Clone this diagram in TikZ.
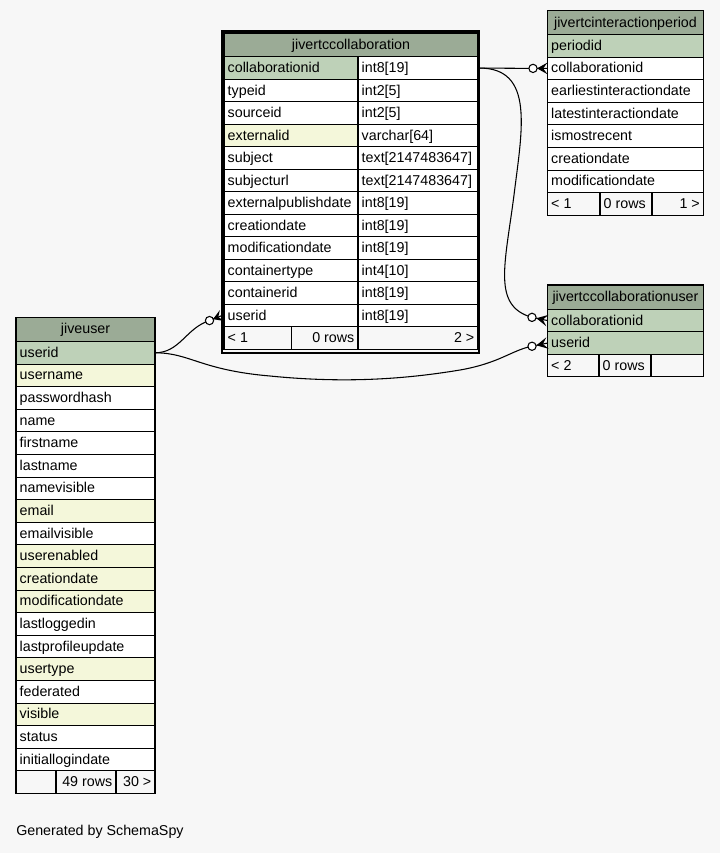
\documentclass[tikz,border=0pt]{standalone}
\usepackage{fontspec}
\setmainfont{Liberation Sans}
\usetikzlibrary{calc}
\definecolor{bgc}{HTML}{F7F7F7}
\definecolor{headc}{HTML}{9BAB96}
\definecolor{pkc}{HTML}{BED1B8}
\definecolor{idxc}{HTML}{F4F7DA}
\tikzset{
  cellbox/.style={draw=black, line width=0.8pt, anchor=north west, inner sep=0pt, outer sep=0pt},
  txt/.style={inner sep=0pt, text height=8pt, text depth=1.2pt, font=\fontsize{10.7}{12}\selectfont},
  conn/.style={draw=black, line width=0.8pt},
  frame/.style={draw=black, line width=2.2pt, inner sep=0pt, outer sep=0pt, anchor=north west}
}
% #1 name, #2 x, #3 y, #4 w, #5 h, #6 fill, #7 text
\newcommand\cellL[7]{%
  \node[cellbox, fill=#6, minimum width=#4*0.75pt, minimum height=#5*0.75pt] (#1) at (#2,#3) {};
  \node[txt, anchor=west] (#1-t) at ([xshift=2.6pt]#1.west) {#7};}
\newcommand\cellR[7]{%
  \node[cellbox, fill=#6, minimum width=#4*0.75pt, minimum height=#5*0.75pt] (#1) at (#2,#3) {};
  \node[txt, anchor=east] (#1-t) at ([xshift=-2.6pt]#1.east) {#7};}
\newcommand\cellC[7]{%
  \node[cellbox, fill=#6, minimum width=#4*0.75pt, minimum height=#5*0.75pt] (#1) at (#2,#3) {};
  \node[txt] (#1-t) at (#1.center) {#7};}
% crow + odot: #1 edge point, #2 circle center
\newcommand\crowodot[2]{%
  \fill ($(#1)!0.72!(#2)$) -- ($(#1)!4.4pt!90:(#2)$) -- ($(#1)!0.3!(#2)$) -- ($(#1)!4.4pt!-90:(#2)$) -- cycle;
  \draw[line width=0.8pt] (#1) -- ($(#1)!0.72!(#2)$);
  \draw[line width=0.8pt, fill=white] (#2) circle[radius=3.1pt];}
\begin{document}
\begin{tikzpicture}[x=0.75pt, y=-0.75pt]
\fill[bgc] (0,0) rectangle (720,853);
\useasboundingbox (0,0) rectangle (720,853);

% ---------------- jivertccollaboration ----------------
\node[frame, minimum width=257*0.75pt, minimum height=322*0.75pt] (cframe) at (222,31) {};
\cellC{c-title}{224}{33}{254}{23.8}{headc}{jivertccollaboration}
\def\cx{224}\def\cw{134}\def\tx{358}\def\tw{120}\def\rh{22.5}
\cellL{c-cid}{\cx}{56.8}{\cw}{\rh}{pkc}{collaborationid}
\cellL{c-cid-ty}{\tx}{56.8}{\tw}{\rh}{white}{int8[19]}
\cellL{c-typ}{\cx}{79.3}{\cw}{\rh}{white}{typeid}
\cellL{c-typ-ty}{\tx}{79.3}{\tw}{\rh}{white}{int2[5]}
\cellL{c-src}{\cx}{101.8}{\cw}{\rh}{white}{sourceid}
\cellL{c-src-ty}{\tx}{101.8}{\tw}{\rh}{white}{int2[5]}
\cellL{c-ext}{\cx}{124.3}{\cw}{\rh}{idxc}{externalid}
\cellL{c-ext-ty}{\tx}{124.3}{\tw}{\rh}{white}{varchar[64]}
\cellL{c-sub}{\cx}{146.8}{\cw}{\rh}{white}{subject}
\cellL{c-sub-ty}{\tx}{146.8}{\tw}{\rh}{white}{text[2147483647]}
\cellL{c-url}{\cx}{169.3}{\cw}{\rh}{white}{subjecturl}
\cellL{c-url-ty}{\tx}{169.3}{\tw}{\rh}{white}{text[2147483647]}
\cellL{c-epd}{\cx}{191.8}{\cw}{\rh}{white}{externalpublishdate}
\cellL{c-epd-ty}{\tx}{191.8}{\tw}{\rh}{white}{int8[19]}
\cellL{c-cd}{\cx}{214.3}{\cw}{\rh}{white}{creationdate}
\cellL{c-cd-ty}{\tx}{214.3}{\tw}{\rh}{white}{int8[19]}
\cellL{c-md}{\cx}{236.8}{\cw}{\rh}{white}{modificationdate}
\cellL{c-md-ty}{\tx}{236.8}{\tw}{\rh}{white}{int8[19]}
\cellL{c-ct}{\cx}{259.3}{\cw}{\rh}{white}{containertype}
\cellL{c-ct-ty}{\tx}{259.3}{\tw}{\rh}{white}{int4[10]}
\cellL{c-ci}{\cx}{281.8}{\cw}{\rh}{white}{containerid}
\cellL{c-ci-ty}{\tx}{281.8}{\tw}{\rh}{white}{int8[19]}
\cellL{c-uid}{\cx}{304.3}{\cw}{\rh}{white}{userid}
\cellL{c-uid-ty}{\tx}{304.3}{\tw}{\rh}{white}{int8[19]}
\cellL{c-f1}{224}{326.8}{67.5}{\rh}{bgc}{< 1}
\cellR{c-f2}{291.5}{326.8}{66.5}{\rh}{bgc}{0 rows}
\cellR{c-f3}{358}{326.8}{120}{\rh}{bgc}{2 >}

% ---------------- jivertcinteractionperiod ----------------
\def\ix{547.5}\def\iw{156}\def\rh{22.6}
\cellC{i-title}{\ix}{10.5}{\iw}{24}{headc}{jivertcinteractionperiod}
\cellL{i-pid}{\ix}{34.5}{\iw}{\rh}{pkc}{periodid}
\cellL{i-cid}{\ix}{57.1}{\iw}{\rh}{white}{collaborationid}
\cellL{i-eid}{\ix}{79.7}{\iw}{\rh}{white}{earliestinteractiondate}
\cellL{i-lid}{\ix}{102.3}{\iw}{\rh}{white}{latestinteractiondate}
\cellL{i-imr}{\ix}{124.9}{\iw}{\rh}{white}{ismostrecent}
\cellL{i-cd}{\ix}{147.5}{\iw}{\rh}{white}{creationdate}
\cellL{i-md}{\ix}{170.1}{\iw}{\rh}{white}{modificationdate}
\cellL{i-f1}{547.5}{192.7}{52.5}{\rh}{bgc}{< 1}
\cellL{i-f2}{600}{192.7}{52}{\rh}{bgc}{0 rows}
\cellR{i-f3}{652}{192.7}{51.5}{\rh}{bgc}{1 >}

% ---------------- jivertccollaborationuser ----------------
\cellC{u-title}{\ix}{285}{\iw}{24.3}{headc}{jivertccollaborationuser}
\cellL{u-cid}{\ix}{309.3}{\iw}{22.5}{pkc}{collaborationid}
\cellL{u-uid}{\ix}{331.8}{\iw}{22.5}{pkc}{userid}
\cellL{u-f1}{547.5}{354.3}{51.5}{22.5}{bgc}{< 2}
\cellL{u-f2}{599}{354.3}{52}{22.5}{bgc}{0 rows}
\cellL{u-f3}{651}{354.3}{52.5}{22.5}{bgc}{}

% ---------------- jiveuser ----------------
\def\jx{16}\def\jw{139}
\cellC{j-title}{\jx}{317.3}{\jw}{24.2}{headc}{jiveuser}
\cellL{j-uid}{\jx}{341.5}{\jw}{\rh}{pkc}{userid}
\cellL{j-un}{\jx}{364.1}{\jw}{\rh}{idxc}{username}
\cellL{j-ph}{\jx}{386.7}{\jw}{\rh}{white}{passwordhash}
\cellL{j-nm}{\jx}{409.3}{\jw}{\rh}{white}{name}
\cellL{j-fn}{\jx}{431.9}{\jw}{\rh}{white}{firstname}
\cellL{j-ln}{\jx}{454.5}{\jw}{\rh}{white}{lastname}
\cellL{j-nv}{\jx}{477.1}{\jw}{\rh}{white}{namevisible}
\cellL{j-em}{\jx}{499.7}{\jw}{\rh}{idxc}{email}
\cellL{j-ev}{\jx}{522.3}{\jw}{\rh}{white}{emailvisible}
\cellL{j-ue}{\jx}{544.9}{\jw}{\rh}{idxc}{userenabled}
\cellL{j-cd}{\jx}{567.5}{\jw}{\rh}{idxc}{creationdate}
\cellL{j-md}{\jx}{590.1}{\jw}{\rh}{idxc}{modificationdate}
\cellL{j-ll}{\jx}{612.7}{\jw}{\rh}{white}{lastloggedin}
\cellL{j-lpu}{\jx}{635.3}{\jw}{\rh}{white}{lastprofileupdate}
\cellL{j-ut}{\jx}{657.9}{\jw}{\rh}{idxc}{usertype}
\cellL{j-fed}{\jx}{680.5}{\jw}{\rh}{white}{federated}
\cellL{j-vis}{\jx}{703.1}{\jw}{\rh}{idxc}{visible}
\cellL{j-st}{\jx}{725.7}{\jw}{\rh}{white}{status}
\cellL{j-ild}{\jx}{748.3}{\jw}{\rh}{white}{initiallogindate}
\cellL{j-f1}{16}{770.9}{40}{\rh}{bgc}{}
\cellR{j-f2}{56}{770.9}{60}{\rh}{bgc}{49 rows}
\cellR{j-f3}{116}{770.9}{39}{\rh}{bgc}{30 >}

% ---------------- connectors ----------------
\coordinate (s1) at (cframe.east |- c-cid.center);
\coordinate (e1) at (i-cid.west);
\coordinate (o1) at ($(e1)+(-14.5,0)$);
\draw[conn] (s1) -- (o1);
\crowodot{e1}{o1}

\coordinate (e2) at (u-cid.west);
\coordinate (o2) at ($(e2)+(-15.5,-3.2)$);
\draw[conn] (s1) .. controls (535,67.8) and (522,130) .. (514,195)
   .. controls (505,265) and (492,306) .. (o2);
\crowodot{e2}{o2}

\coordinate (s3) at (j-uid.east);
\coordinate (e3) at (cframe.west |- c-uid.center);
\coordinate (o3) at ($(e3)+(-12.5,5)$);
\draw[conn] (s3) .. controls (180,352.8) and (186,328) .. (o3);
\crowodot{e3}{o3}

\coordinate (e4) at (u-uid.west);
\coordinate (o4) at ($(e4)+(-15.5,3.2)$);
\draw[conn] (s3) .. controls (190,352.8) and (200,370) .. (270,376)
   .. controls (340,383) and (400,380) .. (460,370)
   .. controls (500,363) and (512,350) .. (o4);
\crowodot{e4}{o4}

\node[txt, anchor=base west] (gen) at (16,835) {Generated by SchemaSpy};
\end{tikzpicture}
\end{document}
